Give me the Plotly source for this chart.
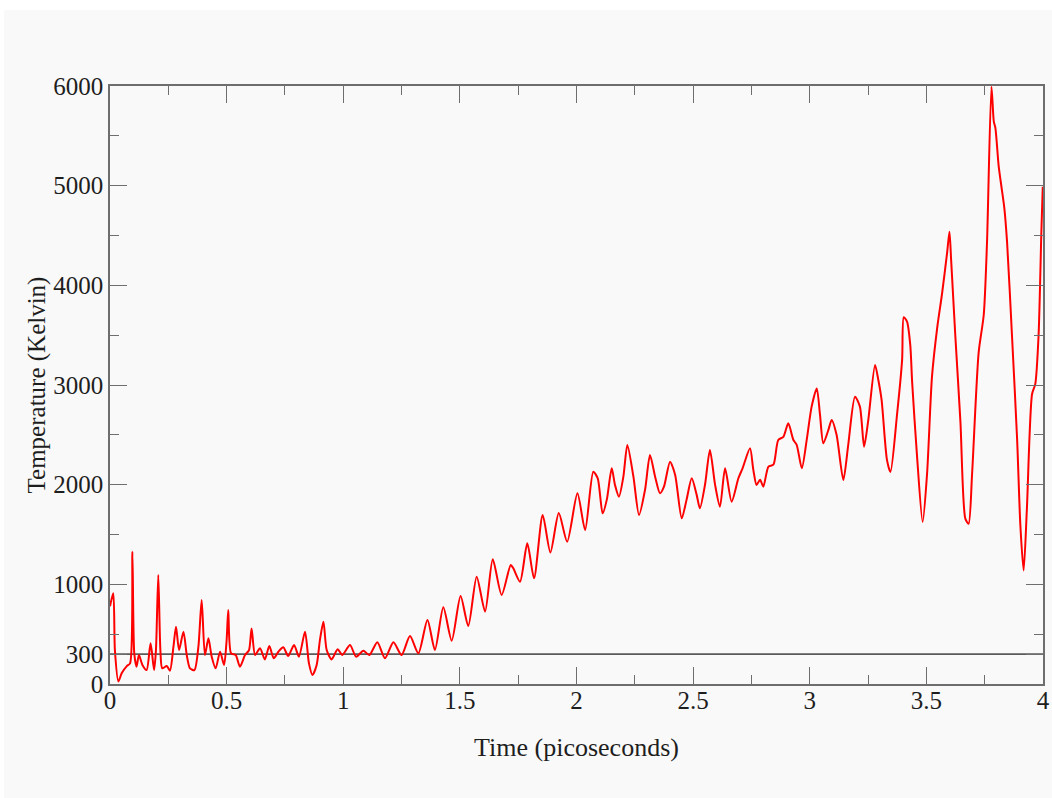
import plotly.graph_objects as go

# ---- data ----
time_ps = [
    0.000, 0.014, 0.021, 0.036, 0.050, 0.072, 0.086, 0.096, 0.104, 0.114,
    0.124, 0.139, 0.157, 0.174, 0.189, 0.197, 0.207, 0.216, 0.224, 0.243,
    0.257, 0.272, 0.283, 0.296, 0.315, 0.329, 0.343, 0.362, 0.379, 0.393,
    0.407, 0.422, 0.436, 0.453, 0.472, 0.489, 0.500, 0.507, 0.519, 0.539,
    0.557, 0.579, 0.596, 0.607, 0.622, 0.643, 0.664, 0.683, 0.702, 0.722,
    0.743, 0.764, 0.789, 0.810, 0.836, 0.853, 0.868, 0.886, 0.900, 0.915,
    0.929, 0.950, 0.976, 0.996,
    1.029, 1.055, 1.086, 1.112, 1.146, 1.179, 1.215, 1.250, 1.286, 1.322,
    1.361, 1.393, 1.429, 1.465, 1.503, 1.536, 1.572, 1.608, 1.641, 1.679,
    1.718, 1.729, 1.758, 1.789, 1.818, 1.855, 1.888, 1.924, 1.960, 2.004,
    2.037, 2.072, 2.091, 2.112, 2.130, 2.151, 2.165, 2.182, 2.201, 2.218,
    2.244, 2.268, 2.294, 2.315, 2.337, 2.358, 2.375, 2.401, 2.423, 2.451,
    2.472, 2.494, 2.515, 2.529, 2.551, 2.572, 2.594, 2.615, 2.637, 2.665,
    2.694, 2.712, 2.744, 2.758, 2.772, 2.787, 2.801, 2.823, 2.844, 2.865,
    2.887, 2.908, 2.930, 2.944, 2.966, 2.987, 3.008, 3.030, 3.044, 3.058,
    3.080, 3.094, 3.115, 3.144, 3.165, 3.194, 3.215, 3.233, 3.251, 3.280,
    3.294, 3.308, 3.331, 3.346, 3.374, 3.396, 3.403, 3.417, 3.431, 3.439,
    3.460, 3.484, 3.503, 3.524, 3.546, 3.567, 3.589, 3.599, 3.606, 3.624,
    3.646, 3.667, 3.681, 3.696, 3.724, 3.746, 3.760, 3.779, 3.789, 3.796,
    3.810, 3.824, 3.834, 3.846, 3.867, 3.889, 3.903, 3.917, 3.931, 3.953,
    3.967, 3.981, 3.993, 3.999,
]
temperature_k = [
    780, 910, 340, 25, 107, 180, 207, 1327, 308, 174,
    291, 191, 140, 408, 140, 341, 1094, 341, 157, 180,
    134, 374, 575, 341, 525, 291, 157, 140, 374, 843,
    291, 458, 274, 157, 324, 191, 441, 742, 308, 291,
    174, 291, 341, 558, 291, 358, 247, 381, 258, 324,
    368, 281, 391, 274, 525, 207, 90, 191, 441, 625,
    341, 247, 348, 291,
    391, 274, 334, 291, 418, 258, 418, 291, 482, 308,
    642, 341, 769, 435, 883, 582, 1077, 726, 1251, 893,
    1194, 1161, 1027, 1411, 1060, 1696, 1320, 1715, 1428, 1913,
    1545, 2130, 2063, 1712, 1850, 2164, 1997, 1880, 2080, 2398,
    2080, 1696, 1950, 2298, 2080, 1913, 1980, 2231, 2097, 1662,
    1850, 2064, 1900, 1763, 2000, 2348, 2000, 1779, 2164, 1829,
    2064, 2164, 2365, 2150, 1997, 2050, 1980, 2181, 2200, 2448,
    2480, 2615, 2448, 2400, 2164, 2450, 2783, 2966, 2700, 2415,
    2550, 2649, 2500, 2047, 2400, 2883, 2783, 2381, 2650, 3201,
    3050, 2850, 2249, 2127, 2699, 3254, 3680, 3636, 3400, 3029,
    2284, 1625, 2110, 3081, 3566, 3913, 4329, 4537, 4260, 3497,
    2630, 1659, 1607, 2110, 3323, 3705, 4433, 5993, 5646, 5577,
    5196, 4953, 4780, 4433, 3497, 2457, 1590, 1139, 1764, 2907,
    3011, 3497, 4537, 4988,
]

room_temp = 300
x_range = [0, 4]
y_range = [0, 6000]
x_major = [0, 0.5, 1, 1.5, 2, 2.5, 3, 3.5, 4]
x_major_text = ["0", "0.5", "1", "1.5", "2", "2.5", "3", "3.5", "4"]
x_minor = [0.25, 0.75, 1.25, 1.75, 2.25, 2.75, 3.25, 3.75]
y_major = [0, 300, 1000, 2000, 3000, 4000, 5000, 6000]
y_major_text = ["0", "300", "1000", "2000", "3000", "4000", "5000", "6000"]
y_minor = [500, 1500, 2500, 3500, 4500, 5500]

FONT = "Liberation Serif"
BG = "#f9f9f9"
AX = "#6e6e6e"
TXT = "#1e1e1e"

fig = go.Figure()
fig.add_trace(go.Scatter(
    x=x_range, y=[room_temp, room_temp], mode="lines",
    line=dict(color="#5a5a5a", width=1.6), hoverinfo="skip", showlegend=False,
))
fig.add_trace(go.Scatter(
    x=time_ps, y=temperature_k, mode="lines",
    line=dict(color="#ff0000", width=2, shape="spline", smoothing=0.7),
    showlegend=False,
))

axis_common = dict(
    showgrid=False, zeroline=False, showline=True, linecolor=AX, linewidth=1.6,
    mirror="allticks", ticks="inside", ticklen=17, tickwidth=1.4, tickcolor=AX,
    tickfont=dict(family=FONT, size=25, color=TXT),
)

fig.update_xaxes(
    range=x_range, tickmode="array", tickvals=x_major, ticktext=x_major_text,
    minor=dict(tickmode="array", tickvals=x_minor, ticks="inside", ticklen=9,
               tickcolor=AX, tickwidth=1.4),
    ticklabelstandoff=-7,
    title=dict(text="Time (picoseconds)", font=dict(family=FONT, size=26, color=TXT), standoff=25),
    **axis_common,
)
fig.update_yaxes(
    range=y_range, tickmode="array", tickvals=y_major, ticktext=y_major_text,
    minor=dict(tickmode="array", tickvals=y_minor, ticks="inside", ticklen=9,
               tickcolor=AX, tickwidth=1.4),
    title=dict(text="Temperature (Kelvin)", font=dict(family=FONT, size=25, color=TXT), standoff=0),
    **axis_common,
)

L, R, T, B = 110, 9, 86, 114
W, H = 1052, 798
pw, ph = W - L - R, H - T - B

fig.update_layout(
    width=W, height=H,
    margin=dict(l=L, r=R, t=T, b=B, autoexpand=False),
    paper_bgcolor=BG, plot_bgcolor=BG,
    shapes=[
        dict(type="rect", xref="paper", yref="paper", layer="below",
             x0=-L / pw - 0.01, x1=1 + R / pw + 0.01,
             y0=1 + (T - 10) / ph, y1=1 + T / ph + 0.01,
             fillcolor="#ffffff", line=dict(width=0)),
        dict(type="rect", xref="paper", yref="paper", layer="below",
             x0=-L / pw - 0.01, x1=-(L - 4) / pw,
             y0=-B / ph - 0.01, y1=1 + T / ph + 0.01,
             fillcolor="#ffffff", line=dict(width=0)),
    ],
)

fig.write_html("out.html")
